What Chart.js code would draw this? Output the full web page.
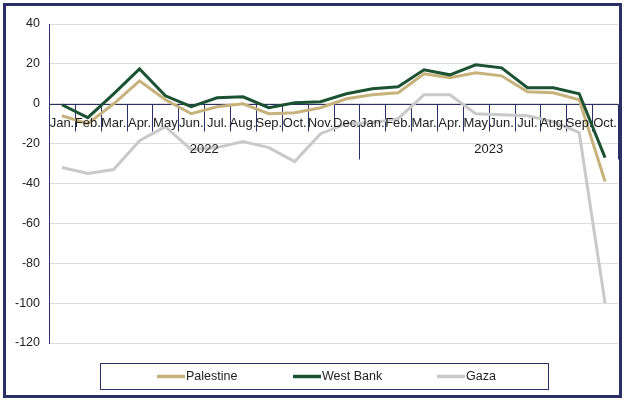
<!DOCTYPE html>
<html>
<head>
<meta charset="utf-8">
<script src="https://cdn.jsdelivr.net/npm/chart.js@4"></script>
<style>
  html, body { margin: 0; padding: 0; background: #fff; }
  #wrap { width: 624px; height: 400px; position: relative; }
</style>
</head>
<body>
<div id="wrap"><canvas id="chart" width="624" height="400"></canvas></div>
<script>
// months and years for the two-level category axis
const months = ['Jan.', 'Feb.', 'Mar.', 'Apr.', 'May', 'Jun.', 'Jul.', 'Aug.', 'Sep.', 'Oct.', 'Nov.', 'Dec.',
                'Jan.', 'Feb.', 'Mar.', 'Apr.', 'May', 'Jun.', 'Jul.', 'Aug.', 'Sep.', 'Oct.'];
const years = ['2022', '2023'];
const yearLength = [12, 10];

// series values
const palestine = [-6, -10, 0, 11.5, 2, -5, -1.5, 0, -5, -4.5, -2, 2.5,
                   4.5, 5.5, 15, 13, 15.5, 14, 6, 5.5, 2, -39];
const westBank = [-0.5, -7, 5, 17.5, 4, -1.5, 3, 3.5, -2, 0.5, 1, 5,
                  7.5, 8.5, 17, 14.5, 19.5, 18, 8, 8, 5, -27];
const gaza = [-32, -35, -33, -18.5, -11.5, -23, -22, -19, -22, -29, -15, -10,
              -9.5, -7.5, 4.5, 4.5, -5, -5.5, -6, -9, -14.5, -100];

const yTicks = [40, 20, 0, -20, -40, -60, -80, -100, -120];

const navy = '#2b2f66';
const fontFamily = "'Liberation Sans', Arial, sans-serif";

// draws the category axis at zero, the frame and the legend
const decorPlugin = {
  id: 'decor',
  beforeDatasetsDraw(chart) {
    const ctx = chart.ctx;
    const area = chart.chartArea;
    const x = chart.scales.x;
    const y = chart.scales.y;
    const y0 = Math.round(y.getPixelForValue(0)) + 0.5;
    const half = (x.getPixelForValue(1) - x.getPixelForValue(0)) / 2;

    ctx.save();
    ctx.strokeStyle = navy;
    ctx.lineWidth = 1;
    ctx.beginPath();
    ctx.moveTo(area.left, y0);
    ctx.lineTo(area.right, y0);
    // month separators
    for (let i = 0; i <= months.length; i++) {
      const px = Math.round(x.getPixelForValue(i) - half) + 0.5;
      ctx.moveTo(px, y0);
      ctx.lineTo(px, y0 + 27);
    }
    // year separators
    let idx = 0;
    const bounds = [0];
    yearLength.forEach(n => { idx += n; bounds.push(idx); });
    bounds.forEach(b => {
      const px = Math.round(x.getPixelForValue(b) - half) + 0.5;
      ctx.moveTo(px, y0);
      ctx.lineTo(px, y0 + 55);
    });
    ctx.stroke();
    ctx.restore();
  },
  afterDatasetsDraw(chart) {
    const ctx = chart.ctx;
    const x = chart.scales.x;
    const y = chart.scales.y;
    const y0 = y.getPixelForValue(0);
    const half = (x.getPixelForValue(1) - x.getPixelForValue(0)) / 2;

    ctx.save();
    ctx.font = '13px ' + fontFamily;
    ctx.fillStyle = '#222';
    ctx.textAlign = 'center';
    ctx.textBaseline = 'middle';
    months.forEach((m, i) => {
      ctx.fillText(m, x.getPixelForValue(i), y0 + 20);
    });
    let start = 0;
    years.forEach((yr, k) => {
      const a = x.getPixelForValue(start) - half;
      const b = x.getPixelForValue(start + yearLength[k] - 1) + half;
      ctx.fillText(yr, (a + b) / 2, y0 + 46);
      start += yearLength[k];
    });

    // outer frame
    ctx.strokeStyle = navy;
    ctx.lineWidth = 3;
    ctx.strokeRect(4.5, 4.5, 616, 392);

    // legend box
    ctx.lineWidth = 1;
    ctx.strokeRect(100.5, 363.5, 448, 26);
    const legendX = [157, 293, 437];
    ctx.textAlign = 'left';
    ctx.font = '12.5px ' + fontFamily;
    chart.data.datasets.forEach((ds, i) => {
      ctx.strokeStyle = ds.borderColor;
      ctx.lineWidth = 3.5;
      ctx.beginPath();
      ctx.moveTo(legendX[i], 376.5);
      ctx.lineTo(legendX[i] + 28, 376.5);
      ctx.stroke();
      ctx.fillStyle = '#222';
      ctx.fillText(ds.label, legendX[i] + 29, 377);
    });
    ctx.restore();
  }
};

new Chart(document.getElementById('chart'), {
  type: 'line',
  data: {
    labels: months.map((m, i) => i),
    datasets: [
      { label: 'Palestine', data: palestine, borderColor: '#c8b27c', order: 1 },
      { label: 'West Bank', data: westBank, borderColor: '#1b5232', order: 0 },
      { label: 'Gaza', data: gaza, borderColor: '#c9c9c9', order: 2 }
    ]
  },
  options: {
    responsive: false,
    animation: false,
    events: [],
    layout: { padding: { left: 0, right: 6, top: 24, bottom: 57 } },
    elements: {
      line: { borderWidth: 3, tension: 0, borderJoinStyle: 'miter' },
      point: { radius: 0 }
    },
    plugins: {
      legend: { display: false },
      tooltip: { enabled: false }
    },
    scales: {
      x: {
        type: 'category',
        offset: true,
        display: false
      },
      y: {
        min: -120,
        max: 40,
        afterBuildTicks: (s) => { s.ticks = yTicks.map(v => ({ value: v })); },
        afterFit: (s) => { s.width = 49; },
        border: { display: true, color: navy, width: 1 },
        grid: { color: '#dcdcdc', lineWidth: 1, drawTicks: false },
        ticks: {
          padding: 9,
          color: '#222',
          font: { family: fontFamily, size: 12.5 }
        }
      }
    }
  },
  plugins: [decorPlugin]
});
</script>
</body>
</html>
